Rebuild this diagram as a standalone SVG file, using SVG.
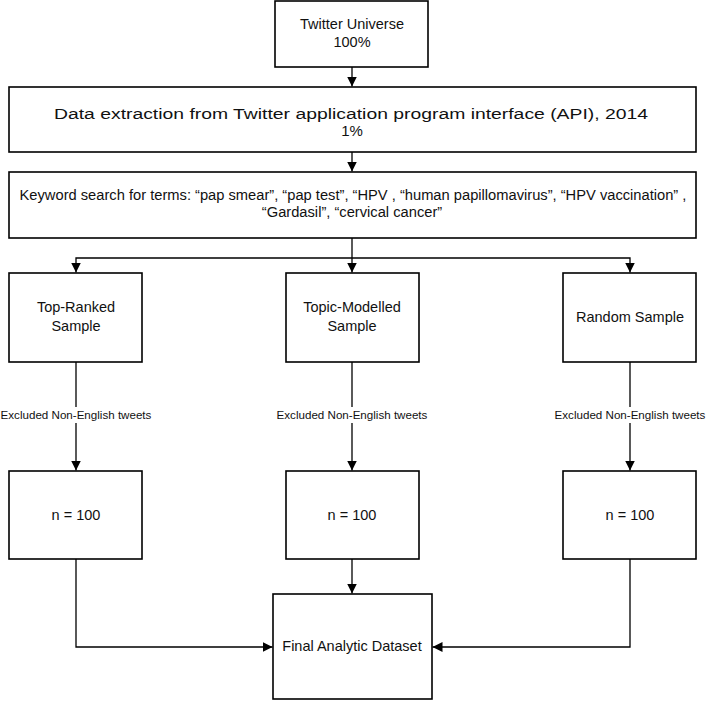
<svg xmlns="http://www.w3.org/2000/svg" width="706" height="701" viewBox="0 0 706 701">
<defs>
<style>
.box{fill:#fff;stroke:#000;stroke-width:1.6}
.t{font-family:"Liberation Sans",Arial,sans-serif;font-size:14.5px;fill:#111;text-anchor:middle}
.k{font-size:14.7px}
.lbl{font-family:"Liberation Sans",Arial,sans-serif;font-size:11.6px;fill:#111;text-anchor:middle}
.c{fill:none;stroke:#000;stroke-width:1.3}
.bg{fill:#fff}
</style>
<marker id="ah" markerUnits="userSpaceOnUse" markerWidth="10" markerHeight="10" refX="10" refY="5" orient="auto">
<path d="M0,0 L10,5 L0,10 z" fill="#000"/>
</marker>
</defs>
<rect width="706" height="701" fill="#fff"/>
<g id="connectors">
<path class="c" d="M352,67 V86.5" marker-end="url(#ah)"/>
<path class="c" d="M352,152 V171.5" marker-end="url(#ah)"/>
<path class="c" d="M352,238 V272.5" marker-end="url(#ah)"/>
<path class="c" d="M352,258 H76 V272.5" marker-end="url(#ah)"/>
<path class="c" d="M352,258 H630 V272.5" marker-end="url(#ah)"/>
<path class="c" d="M76,362 V470.5" marker-end="url(#ah)"/>
<path class="c" d="M352,362 V470.5" marker-end="url(#ah)"/>
<path class="c" d="M630,362 V470.5" marker-end="url(#ah)"/>
<path class="c" d="M352,559 V593.5" marker-end="url(#ah)"/>
<path class="c" d="M76,559 V647 H272.5" marker-end="url(#ah)"/>
<path class="c" d="M630,559 V647 H432.5" marker-end="url(#ah)"/>
<g id="label-left"><rect class="bg" x="0" y="407" width="152" height="16"/><text class="lbl" x="76" y="419">Excluded Non-English tweets</text></g>
<g id="label-mid"><rect class="bg" x="276" y="407" width="152" height="16"/><text class="lbl" x="352" y="419">Excluded Non-English tweets</text></g>
<g id="label-right"><rect class="bg" x="554" y="407" width="152" height="16"/><text class="lbl" x="630" y="419">Excluded Non-English tweets</text></g>
</g>
<g id="twitter-universe">
<rect class="box" x="275" y="1" width="153" height="66"/>
<text class="t" x="352" y="29">Twitter Universe</text>
<text class="t" x="352" y="47">100%</text>
</g>
<g id="data-extraction">
<rect class="box" x="9" y="87" width="687" height="65"/>
<text class="t" x="351" y="119" style="font-size:15.5px" textLength="594" lengthAdjust="spacingAndGlyphs">Data extraction from Twitter application program interface (API), 2014</text>
<text class="t" x="352" y="136" style="font-size:15px">1%</text>
</g>
<g id="keyword-search">
<rect class="box" x="9" y="172" width="687" height="66"/>
<text class="t k" x="353" y="200">Keyword search for terms: “pap smear”, “pap test”, “HPV , “human papillomavirus”, “HPV vaccination” ,</text>
<text class="t k" x="352" y="217">“Gardasil”, “cervical cancer”</text>
</g>
<g id="top-ranked">
<rect class="box" x="9" y="273" width="133" height="89"/>
<text class="t" x="76" y="312">Top-Ranked</text>
<text class="t" x="76" y="331">Sample</text>
</g>
<g id="topic-modelled">
<rect class="box" x="286" y="273" width="133" height="89"/>
<text class="t" x="352" y="312">Topic-Modelled</text>
<text class="t" x="352" y="331">Sample</text>
</g>
<g id="random-sample">
<rect class="box" x="563" y="273" width="133" height="89"/>
<text class="t" x="630" y="322">Random Sample</text>
</g>
<g id="n-left">
<rect class="box" x="9" y="471" width="133" height="88"/>
<text class="t" x="76" y="520">n = 100</text>
</g>
<g id="n-mid">
<rect class="box" x="286" y="471" width="133" height="88"/>
<text class="t" x="352" y="520">n = 100</text>
</g>
<g id="n-right">
<rect class="box" x="563" y="471" width="133" height="88"/>
<text class="t" x="630" y="520">n = 100</text>
</g>
<g id="final-dataset">
<rect class="box" x="273" y="594" width="159" height="105"/>
<text class="t" x="352" y="651">Final Analytic Dataset</text>
</g>
</svg>
